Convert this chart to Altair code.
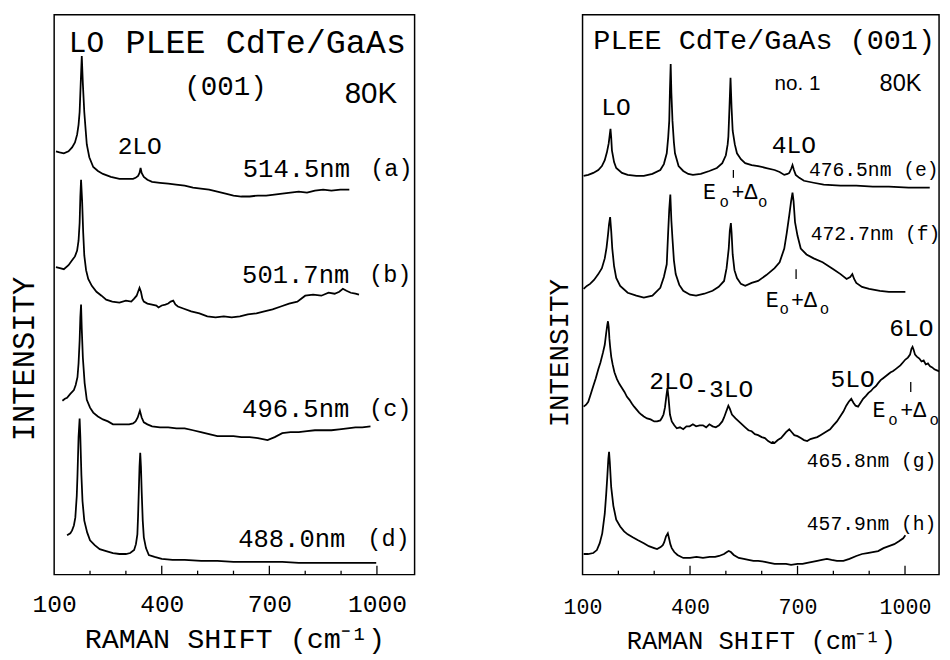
import altair as alt
import pandas as pd

# ---------------- LEFT PANEL spectra (Raman shift cm-1, intensity arb.) -------------
a_x = [105,115,127,140,150,158,164,168,171,174,177,180,184,188,191,198,209,222,236,258,282,305,320,327,334,338,341,344,350,360,373,395,418,440,464,487,509,532,555,578,600,622,645,668,691,714,736,759,782,805,827,850,873,898,923]
a_y = [431,430,429,431,435,440,448,458,471,500,528,500,471,452,438,425,415,411,408,405,403,403,403,404,406,409,414,409,405,402,400,399,398,397,396,394,393,392,390,388,386,385,385,386,386,387,388,389,390,389,391,392,391,392,392]

b_x = [105,116,127,140,150,158,164,168,171,173,175,178,181,184,189,195,205,218,232,245,262,282,300,315,323,330,334,338,342,346,350,360,373,385,391,400,410,418,425,432,438,445,460,482,505,527,550,573,595,618,640,664,686,709,732,755,778,800,822,845,865,882,895,905,915,927,940,950]
b_y = [313,312,311,315,320,324,330,340,358,385,402,380,348,325,310,301,294,288,284,280,278,277,279,278,281,284,288,292,288,281,278,276,275,274,272,274,275,276,278,279,275,273,271,268,266,263,262,263,262,263,265,266,268,270,273,276,278,284,285,284,287,286,288,291,289,287,286,285]

c_x = [123,130,136,145,155,160,165,168,171,173,175,177,180,185,191,200,209,222,236,250,264,286,309,320,327,333,339,344,350,360,373,395,418,441,464,487,509,532,555,578,600,622,645,668,695,715,736,759,782,805,827,850,873,895,918,940,959,982]
c_y = [177,179,180,184,188,193,201,215,238,262,275,250,221,195,178,170,165,161,158,156,153,153,153,154,156,160,167,160,155,153,151,150,150,149,149,147,145,143,141,141,141,140,140,139,137,140,144,145,145,146,147,147,147,148,149,150,150,151]

d_x = [136,145,150,155,159,163,165,168,171,173,176,179,184,192,200,213,227,245,264,282,300,312,323,328,332,334,336,338,340,342,344,347,350,356,364,380,400,430,464,510,555,600,645,690,736,782,827,873,918,960,998]
d_y = [40,42,45,50,58,80,101,140,159,140,101,75,55,43,35,30,26,24,22,21,21,22,25,31,41,60,85,110,124,110,85,55,38,27,20,18,16,15,15,14,14,13,13,13,13,12,12,12,12,12,12]

# ---------------- RIGHT PANEL spectra -------------
e_x = [103,116,130,144,154,162,168,173,176,178,180,182,188,194,210,226,250,271,295,317,327,335,339,342,344,346,348,351,355,358,368,381,395,408,430,454,475,490,500,505,507,510,513,516,519,525,531,542,554,572,590,613,636,650,663,672,677,682,686,690,695,705,718,745,773,820,864,910,955,1010,1069]
e_y = [406,407,409,412,416,422,430,439,448,454,445,432,420,414,409,407,406,406,408,412,418,429,445,462,495,520,490,462,440,429,416,411,408,407,408,411,414,419,427,438,446,475,506,475,452,438,429,423,419,417,416,414,412,410,407,408,409,413,417,412,407,404,401,399,397,396,396,395,395,394,394]

f_x = [103,112,121,132,144,154,162,167,171,174,177,180,183,188,194,205,226,250,271,295,317,327,335,339,342,345,348,351,355,360,370,381,400,417,440,463,480,495,502,508,511,514,516,519,524,531,542,554,572,590,613,636,650,663,670,677,682,686,689,693,700,709,725,745,770,800,820,837,847,853,858,864,880,900,930,955,1001]
f_y = [291,294,296,300,306,312,322,333,346,357,364,350,332,314,302,294,287,284,282,284,292,303,316,349,372,387,360,342,320,306,295,289,285,284,286,289,293,299,312,332,350,358,348,326,310,302,296,294,297,299,305,312,318,332,348,366,380,389,380,359,345,332,326,322,318,311,306,301,303,306,301,297,293,291,289,288,288]

g_x = [103,110,116,123,130,137,144,150,157,162,166,169,171,173,175,177,180,184,189,196,203,210,217,224,231,238,244,251,258,264,271,280,290,300,308,317,322,326,330,334,337,340,344,349,356,363,372,381,390,399,408,417,427,436,445,454,463,472,481,490,495,500,504,507,511,517,527,536,545,554,563,572,581,590,600,609,618,627,631,636,645,654,661,668,677,684,691,700,709,718,727,736,745,755,764,773,782,791,800,810,819,828,836,843,850,856,862,869,876,883,891,898,905,912,919,925,932,939,946,953,960,966,973,980,987,994,1001,1008,1014,1018,1021,1024,1028,1033,1040,1046,1052,1058,1064,1070,1076,1082,1089,1096]
g_y = [171,173,176,184,192,200,209,216,226,234,246,254,258,252,240,232,222,214,206,199,194,190,186,181,178,174,171,168,165,163,161,159,158,156,156,157,160,163,170,182,190,180,163,156,152,149,150,148,151,151,153,151,152,152,150,153,151,150,152,156,160,165,169,172,169,163,159,156,153,150,147,146,143,142,140,139,136,134,135,134,137,139,142,145,148,145,142,141,139,137,136,138,139,140,142,144,146,148,152,156,161,166,172,176,179,175,172,171,175,179,182,185,187,190,192,195,198,200,202,204,206,207,209,211,213,216,219,221,224,230,232,229,224,222,220,217,218,214,215,212,211,209,208,207]

h_x = [103,115,130,140,148,155,162,166,169,172,174,176,180,186,194,205,216,226,240,255,271,285,300,308,318,324,328,333,338,342,345,349,356,365,381,400,418,436,455,470,481,495,503,508,514,522,536,550,563,577,590,609,622,636,650,668,682,700,714,727,741,755,768,782,795,810,828,845,864,880,895,910,925,940,955,970,983,995,1001]
h_y = [21,21,22,25,32,42,62,82,99,118,125,115,89,70,56,49,44,41,38,35,32,29,27,26,28,30,33,39,42,36,31,27,23,20,17,17,18,17,18,18,19,21,23,24,23,20,17,16,15,14,14,13,12,11,11,11,10,11,11,12,13,14,15,16,15,14,14,16,19,21,22,23,24,27,29,31,34,37,40]

# tick positions / labels
tick_labels = [100, 400, 700, 1000]
minor_ticks = [200, 300, 500, 600, 800, 900]
major_ticks = [400, 700, 1000]

# annotations: (text, shift, intensity, font size)
left_mono = [
    ("LO", 141, 541, 30), ("PLEE CdTe/GaAs", 299, 541, 34), ("(001)", 463, 496, 28),
    ("2LO", 277, 436, 25),
    ("514.5nm", 626, 413, 26), ("(a)", 981, 413, 24),
    ("501.7nm", 624, 305, 26), ("(b)", 978, 305, 24),
    ("496.5nm", 624, 168, 26), ("(c)", 978, 168, 24),
    ("488.0nm", 613, 36, 26), ("(d)", 973, 36, 24),
]
left_sans = [("80K", 910, 489, 30)]

right_mono = [
    ("PLEE CdTe/GaAs (001)", 130, 544, 29), ("LO", 152, 476, 25), ("4LO", 628, 437, 25),
    ("476.5nm (e)", 732, 412, 20), ("472.7nm (f)", 737, 347, 20),
    ("2LO", 286, 197, 25), ("-3LO", 412, 189, 25), ("5LO", 792, 199, 25), ("6LO", 956, 251, 25),
    ("465.8nm (g)", 726, 116, 20), ("457.9nm (h)", 726, 51, 20),
    ("E", 436, 389, 22), ("o", 482, 379, 16), ("+Δ", 516, 389, 22), ("o", 590, 379, 16),
    ("E", 611, 280, 22), ("o", 650, 270, 16), ("+Δ", 682, 280, 22), ("o", 762, 270, 16),
    ("E", 909, 167, 22), ("o", 953, 157, 16), ("+Δ", 987, 167, 22), ("o", 1068, 157, 16),
]
right_sans = [("no. 1", 636, 499, 21), ("80K", 929, 499, 24)]

# E0+Δ0 position markers: (shift, from, to)
right_marks = [(521, 404, 412), (696, 301, 311), (1016, 186, 196)]


def spectra(names, xs, ys):
    rows = []
    for n, xx, yy in zip(names, xs, ys):
        for a, b in zip(xx, yy):
            rows.append({"series": n, "shift": a, "inten": b})
    return pd.DataFrame(rows)


def texts(items):
    return pd.DataFrame([{"label": t, "shift": x, "inten": y, "fs": s} for t, x, y, s in items])


MONO = "Liberation Mono"
SANS = "Liberation Sans"
H = 570


def panel(spec, mono, sans, domain, width, lab_fs, lab_pad, xt_fs, xt_y, yt_fs, yt_x, yt_y, marks=None):
    xs = alt.Scale(domain=domain, nice=False, zero=False)
    ys = alt.Scale(domain=[0, H], nice=False, zero=False)
    X = alt.X("shift:Q", scale=xs, title="RAMAN SHIFT (cm⁻¹)", axis=alt.Axis(
        values=tick_labels, format="d", grid=False, domain=False,
        ticks=False, tickSize=0, labelFont=MONO, labelFontSize=lab_fs, labelColor="black",
        labelBaseline="alphabetic", labelPadding=lab_pad, labelFlush=False,
        titleFont=MONO, titleFontSize=xt_fs, titleFontWeight="normal", titleColor="black",
        titleBaseline="alphabetic", titleY=xt_y))
    Y = alt.Y("inten:Q", scale=ys, title="INTENSITY", axis=alt.Axis(
        labels=False, ticks=False, domain=False, grid=False,
        titleFont=MONO, titleFontSize=yt_fs, titleFontWeight="normal", titleColor="black",
        titleAngle=270, titleBaseline="alphabetic", titleAlign="center",
        titleX=yt_x, titleY=yt_y))
    line = alt.Chart(spec).mark_line(color="black", strokeWidth=1.8, clip=True).encode(
        x=X, y=Y, detail="series:N")
    minor = alt.Chart(pd.DataFrame({"shift": minor_ticks})).mark_rule(color="black", strokeWidth=1.3).encode(
        x=X, y=alt.value(H), y2=alt.value(H - 4))
    major = alt.Chart(pd.DataFrame({"shift": major_ticks})).mark_rule(color="black", strokeWidth=1.3).encode(
        x=X, y=alt.value(H), y2=alt.value(H - 9))
    tm = alt.Chart(mono).mark_text(font=MONO, align="left", baseline="middle", color="black").encode(
        x=X, y=Y, text="label:N", size=alt.Size("fs:Q", scale=None, legend=None))
    ts = alt.Chart(sans).mark_text(font=SANS, align="left", baseline="middle", color="black").encode(
        x=X, y=Y, text="label:N", size=alt.Size("fs:Q", scale=None, legend=None))
    layers = [line, minor, major, tm, ts]
    if marks is not None:
        mk = alt.Chart(pd.DataFrame([{"shift": s, "inten": a, "hi": b} for s, a, b in marks])).mark_rule(
            color="black", strokeWidth=1.3).encode(x=X, y=Y, y2="hi:Q")
        layers.append(mk)
    return alt.layer(*layers).properties(width=width, height=H)


left_spec = spectra(["a", "b", "c", "d"], [a_x, b_x, c_x, d_x], [a_y, b_y, c_y, d_y])
right_spec = spectra(["e", "f", "g", "h"], [e_x, f_x, g_x, h_x], [e_y, f_y, g_y, h_y])

left = panel(left_spec, texts(left_mono), texts(left_sans), [100, 1105], 367,
             25, 38, 29, 74, 31, -21, 350)
right = panel(right_spec, texts(right_mono), texts(right_sans), [100, 1095], 363,
              22, 40, 26, 75, 28, -15, 344, marks=right_marks)

chart = alt.hconcat(left, right, spacing=171, bounds="flush").properties(
    padding=0, background="white"
).configure_view(stroke="black", strokeWidth=1.5)

chart.save("out.html", embed_options={"renderer": "svg", "actions": False})
